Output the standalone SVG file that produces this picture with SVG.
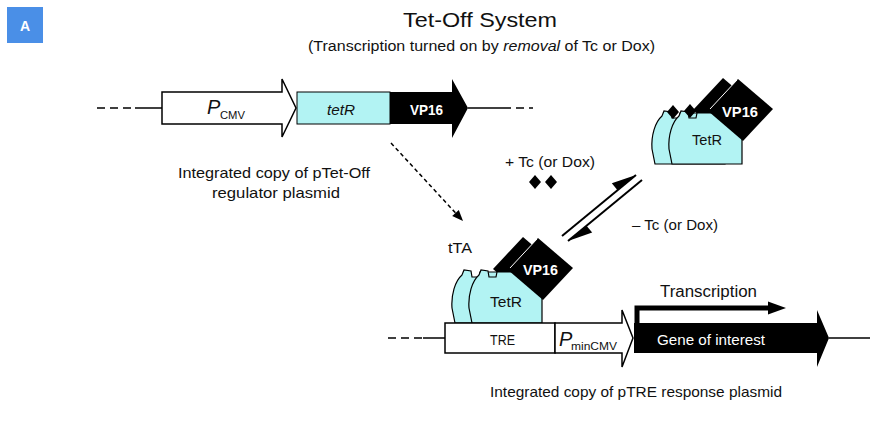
<svg xmlns="http://www.w3.org/2000/svg" width="875" height="433" viewBox="0 0 875 433">
  <style>
    text { font-family: "Liberation Sans Narrow", "Liberation Sans", Arial, sans-serif; fill: #111; }
    .lbl { font-size: 15px; }
    .sm { font-size: 14px; }
    .wt { fill: #fff; font-weight: bold; font-size: 14px; }
    .it { font-style: italic; }
    .dna { stroke: #000; stroke-width: 1.5; fill: none; }
    .dash { stroke-dasharray: 8 5; }
    .box { stroke: #000; stroke-width: 1.5; }
    .sub { font-size: 11px; }
  </style>
  <defs>
    <!-- TetR subunit: flat base, rounded left side, small pocket at top-left -->
    <path id="tetr" d="M473,323 H542 V272 H497 L496,277 L489,277 L488,271 L481,270 L479,275 C472,281 468,295 469,308 L472,323 Z"/>
    <!-- VP16 activation domain: rotated square -->
    <path id="vp16" d="M538,238 L573,268 L543,300 L508,270 Z"/>
    <!-- tetracycline / doxycycline molecule -->
    <path id="tc" d="M0,-7 L6,0 L0,7 L-6,0 Z"/>
    <!-- tTA dimer: two TetR-VP16 fusions, back copy offset to the left -->
    <g id="complex">
      <use href="#tetr" transform="translate(-17,0)" fill="#b2f3f3" stroke="#000" stroke-width="1.2"/>
      <use href="#vp16" transform="translate(-15,-1)" fill="#000"/>
      <use href="#tetr" fill="#b2f3f3" stroke="#000" stroke-width="1.2"/>
      <use href="#vp16" fill="#000"/>
      <line x1="537" y1="239" x2="510" y2="268" stroke="#fff" stroke-width="1"/>
    </g>
  </defs>

  <rect width="875" height="433" fill="#fff"/>

  <!-- panel tag -->
  <g id="panel-tag">
    <rect x="7" y="7" width="36" height="36" fill="#4a8fe7"/>
    <text x="25" y="31" text-anchor="middle" style="font-family:'Liberation Sans',Arial,sans-serif;font-size:14px;font-weight:bold;fill:#fff">A</text>
  </g>

  <!-- heading -->
  <g id="heading">
    <text x="403" y="27" style="font-size:20px" textLength="154" lengthAdjust="spacingAndGlyphs">Tet-Off System</text>
    <text x="308" y="51" class="sm" textLength="347" lengthAdjust="spacingAndGlyphs">(Transcription turned on by <tspan class="it">removal</tspan> of Tc or Dox)</text>
  </g>

  <!-- connectors -->
  <g id="connectors">
    <!-- DNA backbone, regulator plasmid -->
    <line x1="97" y1="108" x2="135" y2="108" class="dna dash"/>
    <line x1="135" y1="108" x2="162" y2="108" class="dna"/>
    <line x1="468" y1="108" x2="503" y2="108" class="dna"/>
    <line x1="503" y1="108" x2="533" y2="108" class="dna dash"/>
    <!-- DNA backbone, response plasmid -->
    <line x1="388" y1="338" x2="423" y2="338" class="dna dash"/>
    <line x1="423" y1="338" x2="445" y2="338" class="dna"/>
    <line x1="829" y1="338" x2="862" y2="338" class="dna"/>
    <line x1="862" y1="338" x2="875" y2="338" class="dna dash"/>
    <!-- expression of tTA -->
    <line x1="391" y1="143" x2="455.5" y2="212.9" stroke="#000" stroke-width="1.5" stroke-dasharray="4 3"/>
    <polygon points="463,221 452.2,216 458.8,209.9" fill="#000"/>
    <!-- equilibrium arrows -->
    <line x1="562" y1="236" x2="636" y2="175" stroke="#000" stroke-width="2"/>
    <polygon points="636,175 611.8,183.3 617.5,190.3" fill="#000"/>
    <line x1="568" y1="241" x2="642" y2="180" stroke="#000" stroke-width="2"/>
    <polygon points="568,241 592.2,232.6 586.5,225.7" fill="#000"/>
    <!-- transcription arrow -->
    <path d="M637,323 V308 H772" fill="none" stroke="#000" stroke-width="5"/>
    <polygon points="768,301.5 786,308 768,314.5" fill="#000"/>
  </g>

  <!-- pCMV promoter -->
  <g id="pcmv">
    <polygon points="162,92 282,92 282,79 296,108 282,137 282,124 162,124" fill="#fff" class="box"/>
    <text x="207" y="114" class="it" style="font-size:20px">P</text>
    <text x="220" y="119" class="sub" textLength="25" lengthAdjust="spacingAndGlyphs">CMV</text>
  </g>

  <!-- tetR coding region -->
  <g id="tetr-gene">
    <rect x="297" y="92" width="93" height="32" fill="#b2f3f3" stroke="#000" stroke-width="1"/>
    <text x="327" y="115" class="sm it" textLength="28" lengthAdjust="spacingAndGlyphs">tetR</text>
  </g>

  <!-- VP16 coding region -->
  <g id="vp16-gene">
    <polygon points="390,92 452,92 452,79 468,108 452,138 452,124 390,124" fill="#000"/>
    <text x="410" y="115" class="wt" textLength="33" lengthAdjust="spacingAndGlyphs">VP16</text>
  </g>

  <g id="regulator-caption">
    <text x="178" y="178" class="lbl" textLength="192" lengthAdjust="spacingAndGlyphs">Integrated copy of pTet-Off</text>
    <text x="212" y="198" class="lbl" textLength="128" lengthAdjust="spacingAndGlyphs">regulator plasmid</text>
  </g>

  <!-- free tetracycline -->
  <g id="free-tc">
    <text x="505" y="167" class="lbl" textLength="90" lengthAdjust="spacingAndGlyphs">+ Tc (or Dox)</text>
    <use href="#tc" x="535" y="182" fill="#000"/>
    <use href="#tc" x="551" y="182" fill="#000"/>
  </g>

  <g id="minus-tc">
    <text x="632" y="230" class="lbl" textLength="86" lengthAdjust="spacingAndGlyphs">– Tc (or Dox)</text>
  </g>

  <!-- tTA with bound Tc, released from DNA -->
  <g id="tta-bound">
    <use href="#complex" transform="translate(200,-159)"/>
    <use href="#tc" x="673" y="112" fill="#000"/>
    <use href="#tc" x="690" y="111" fill="#000"/>
    <text x="722" y="117" class="wt" textLength="36" lengthAdjust="spacingAndGlyphs">VP16</text>
    <text x="692" y="145" class="sm" textLength="30" lengthAdjust="spacingAndGlyphs">TetR</text>
  </g>

  <!-- tTA bound to TRE -->
  <g id="tta-dna">
    <use href="#complex"/>
    <text x="448" y="253" class="lbl" textLength="24" lengthAdjust="spacingAndGlyphs">tTA</text>
    <text x="523" y="275" class="wt" textLength="35" lengthAdjust="spacingAndGlyphs">VP16</text>
    <text x="490" y="307" class="sm" textLength="32" lengthAdjust="spacingAndGlyphs">TetR</text>
  </g>

  <!-- response plasmid -->
  <g id="tre">
    <rect x="445" y="323" width="110" height="30" fill="#fff" class="box"/>
    <text x="490" y="345" class="lbl" textLength="25" lengthAdjust="spacingAndGlyphs">TRE</text>
  </g>

  <g id="pmincmv">
    <polygon points="555,323 622,323 622,310 633,338 622,367 622,353 555,353" fill="#fff" class="box"/>
    <text x="559" y="346" class="it" style="font-size:20px">P</text>
    <text x="571" y="350" class="sub" textLength="46" lengthAdjust="spacingAndGlyphs">minCMV</text>
  </g>

  <g id="goi">
    <polygon points="634,323 817,323 817,310 829,338 817,367 817,353 634,353" fill="#000"/>
    <text x="657" y="345" class="lbl" style="fill:#fff" textLength="108" lengthAdjust="spacingAndGlyphs">Gene of interest</text>
  </g>

  <g id="transcription-label">
    <text x="660" y="297" style="font-size:16px" textLength="97" lengthAdjust="spacingAndGlyphs">Transcription</text>
  </g>

  <g id="response-caption">
    <text x="490" y="397" class="lbl" textLength="292" lengthAdjust="spacingAndGlyphs">Integrated copy of pTRE response plasmid</text>
  </g>
</svg>
